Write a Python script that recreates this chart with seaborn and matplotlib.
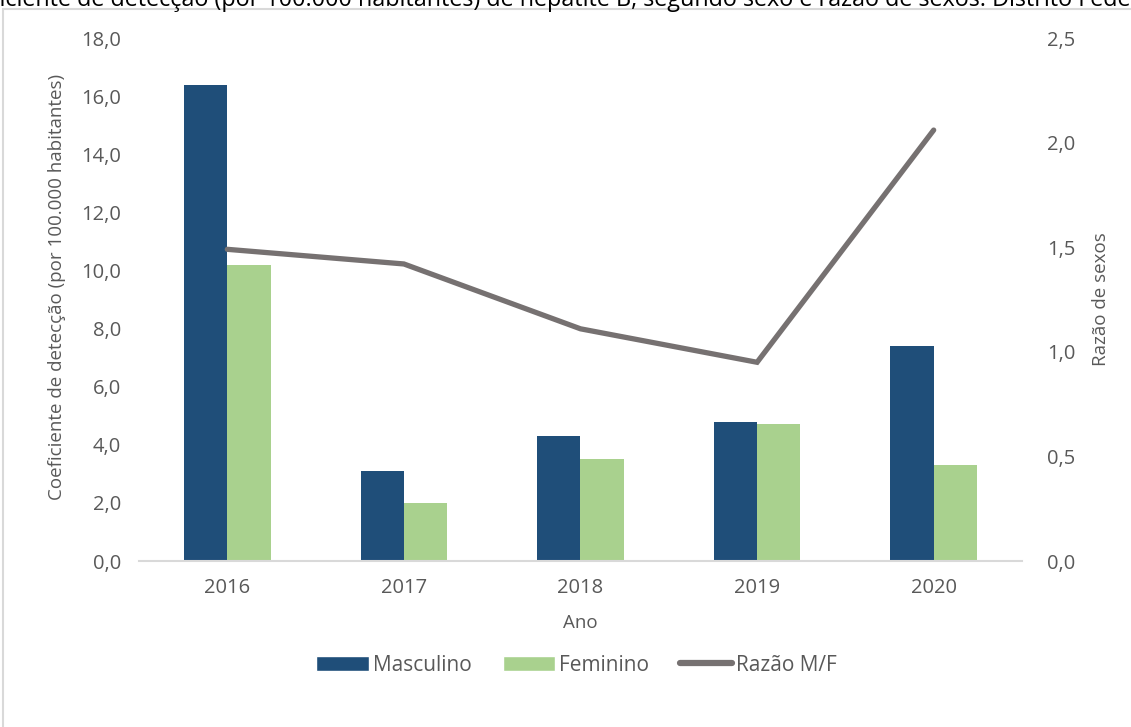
# Coeficiente de detecção de hepatite B por sexo + razão M/F
import pandas as pd
import numpy as np
import matplotlib
matplotlib.use("Agg")
import matplotlib.pyplot as plt
from matplotlib.patches import Patch, Rectangle
from matplotlib.lines import Line2D
from matplotlib.ticker import FuncFormatter
import seaborn as sns

# ---- dados ----
anos = ["2016", "2017", "2018", "2019", "2020"]
masculino = [16.4, 3.1, 4.3, 4.8, 7.4]
feminino = [10.2, 2.0, 3.5, 4.7, 3.3]
razao_mf = [1.49, 1.42, 1.11, 0.95, 2.06]

titulo = ("Coeficiente de detecção (por 100.000 habitantes) de hepatite B, "
          "segundo sexo e razão de sexos. Distrito Federal, 2016 a 2020")

cor_masc = "#1F4E79"
cor_fem = "#A9D18E"
cor_linha = "#767171"
cor_texto = "#595959"

df = pd.DataFrame({
    "Ano": anos * 2,
    "Coeficiente": masculino + feminino,
    "Sexo": ["Masculino"] * len(anos) + ["Feminino"] * len(anos),
})

sns.set_theme(style="white")
plt.rcParams["font.family"] = ["Open Sans", "DejaVu Sans"]

fig = plt.figure(figsize=(11.31, 7.27), dpi=100)
ax = fig.add_axes([0.1229, 0.2283, 0.7807, 0.7194])

sns.barplot(data=df, x="Ano", y="Coeficiente", hue="Sexo",
            palette=[cor_masc, cor_fem], width=0.49, gap=0, saturation=1,
            edgecolor="none", legend=False, ax=ax)

ax2 = ax.twinx()
sns.lineplot(x=np.arange(len(anos)), y=razao_mf, ax=ax2, color=cor_linha,
             linewidth=3.8, solid_capstyle="round", solid_joinstyle="miter")

ax.set_xlim(-0.5, len(anos) - 0.5)
ax.set_ylim(0, 18)
ax.set_yticks(np.arange(0, 18.1, 2))
ax2.set_ylim(0, 2.5)
ax2.set_yticks(np.arange(0, 2.51, 0.5))

virgula1 = FuncFormatter(lambda v, p: f"{v:.1f}".replace(".", ","))
ax.yaxis.set_major_formatter(virgula1)
ax2.yaxis.set_major_formatter(virgula1)

for a in (ax, ax2):
    for s in a.spines.values():
        s.set_visible(False)
    a.tick_params(length=0, labelsize=14.5, labelcolor=cor_texto)
ax.spines["bottom"].set_visible(True)
ax.spines["bottom"].set_color("#D9D9D9")
ax.spines["bottom"].set_linewidth(1.5)
ax.tick_params(axis="y", pad=13)
ax.tick_params(axis="x", pad=12)
ax2.tick_params(axis="y", pad=18)

ax.set_xlabel("Ano", fontsize=13.5, color=cor_texto, labelpad=12)
ax.set_ylabel("Coeficiente de detecção (por 100.000 habitantes)",
              fontsize=13.5, color=cor_texto, labelpad=10)
ax.yaxis.set_label_coords(-0.083, 0.525)
ax2.set_ylabel("Razão de sexos", fontsize=13.5, color=cor_texto, labelpad=12)

# legenda
handles = [
    Patch(facecolor=cor_masc, label="Masculino"),
    Patch(facecolor=cor_fem, label="Feminino"),
    Line2D([0], [0], color=cor_linha, linewidth=4.5, label="Razão M/F"),
]
leg = fig.legend(handles=handles, loc="center", bbox_to_anchor=(0.51, 0.085),
                 ncol=3, frameon=False, fontsize=15, handlelength=2.5,
                 handletextpad=0.2, columnspacing=1.5)
for t in leg.get_texts():
    t.set_color(cor_texto)

# borda da área do gráfico e título cortado
fig.patches.append(Rectangle((3 / 1131, -0.1), 1.2, 1.1 - 9 / 727,
                             transform=fig.transFigure, fill=False,
                             edgecolor="#D9D9D9", linewidth=1.5))
fig.text(-0.044, 1.0, titulo, ha="left", va="center", fontsize=16.8,
         color="black")

fig.savefig("out.png", dpi=100)
